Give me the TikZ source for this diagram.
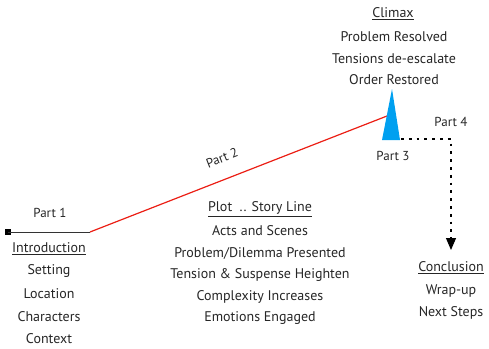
\documentclass[tikz,border=0pt]{standalone}
\usepackage{fontspec}
\setmainfont{PT Sans}
\usetikzlibrary{arrows.meta}
\definecolor{climaxblue}{RGB}{0,160,240}
\definecolor{plotred}{RGB}{235,30,20}
\tikzset{
  txt/.style={inner sep=0pt, font=\fontsize{14}{16}\selectfont, text=black!85},
  lbl/.style={inner sep=0pt, font=\fontsize{13}{15}\selectfont, text=black!85},
  dotline/.style={line width=2.8pt, dash pattern=on 2.8pt off 5pt, black},
}
\begin{document}
\begin{tikzpicture}[x=1pt,y=-1pt]
\useasboundingbox (0,0) rectangle (489,348);
% lines
\node[fill=black, minimum size=6pt, inner sep=0pt] (start) at (8,232) {};
\coordinate (bend) at (90,232);
\coordinate (peak) at (387,116);
\draw[line width=1pt, black!80] (start.center) -- (bend);
\draw[line width=1.2pt, plotred] (bend) -- (peak);
% climax triangle
\fill[climaxblue] (392,89) -- (400,140) -- (382,140) -- cycle;
\coordinate (c3) at (401,139);
\coordinate (corner) at (451,139);
\coordinate (endc) at (451,250);
\draw[dotline] (c3) -- (corner) -- ([yshift=12pt]endc);
\draw[line width=1pt, -{Triangle[width=10pt,length=12pt]}] ([yshift=12pt]endc) -- (endc);
% part labels
\node[lbl] (p1) at (50,213) {Part 1};
\node[lbl, rotate=21.3] (p2) at (222,158) {Part 2};
\node[lbl] (p3) at (393,156) {Part 3};
\node[lbl] (p4) at (451,122) {Part 4};
% climax text
\node[txt] (cl0) at (393,14) {\underline{Climax}};
\node[txt] (cl1) at (394,37) {Problem Resolved};
\node[txt] (cl2) at (394,59) {Tensions de-escalate};
\node[txt] (cl3) at (394,80) {Order Restored};
% introduction
\node[txt] (in0) at (49,249) {\underline{Introduction}};
\node[txt] (in1) at (49,271) {Setting};
\node[txt] (in2) at (49,294) {Location};
\node[txt] (in3) at (49,317) {Characters};
\node[txt] (in4) at (49,339) {Context};
% plot
\node[txt] (pl0) at (260,209) {\underline{Plot\ \ .. Story Line}};
\node[txt] (pl1) at (260,231) {Acts and Scenes};
\node[txt] (pl2) at (260,253) {Problem/Dilemma Presented};
\node[txt] (pl3) at (260,275) {Tension \& Suspense Heighten};
\node[txt] (pl4) at (260,297) {Complexity Increases};
\node[txt] (pl5) at (260,318) {Emotions Engaged};
% conclusion
\node[txt] (co0) at (451,268) {\underline{Conclusion}};
\node[txt] (co1) at (451,291) {Wrap-up};
\node[txt] (co2) at (451,313) {Next Steps};
\end{tikzpicture}
\end{document}
